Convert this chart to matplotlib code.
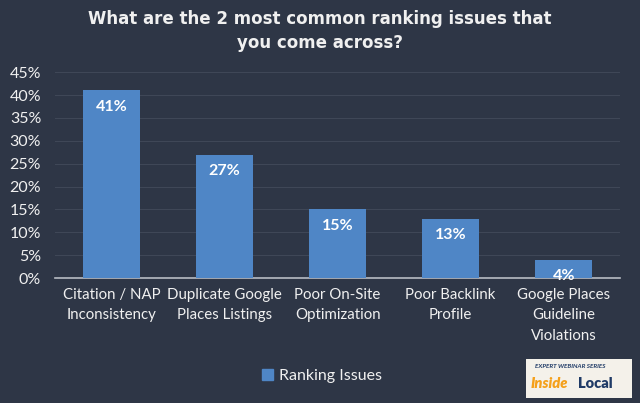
import matplotlib
matplotlib.use("Agg")
import matplotlib.pyplot as plt
from matplotlib.patches import Rectangle, Patch

categories = ["Citation / NAP\nInconsistency", "Duplicate Google\nPlaces Listings",
              "Poor On-Site\nOptimization", "Poor Backlink\nProfile",
              "Google Places\nGuideline\nViolations"]
values = [0.41, 0.27, 0.15, 0.13, 0.04]
value_labels = ["41%", "27%", "15%", "13%", "4%"]
yticks = [0, 0.05, 0.10, 0.15, 0.20, 0.25, 0.30, 0.35, 0.40, 0.45]
ytick_labels = ["0%", "5%", "10%", "15%", "20%", "25%", "30%", "35%", "40%", "45%"]
series_name = "Ranking Issues"
title = "What are the 2 most common ranking issues that\nyou come across?"

BG = "#2e3646"
BAR = "#4f86c6"
TXT = "#f0f0f0"
plt.rcParams['font.family'] = ['Lato', 'DejaVu Sans']

fig = plt.figure(figsize=(6.4, 4.03), dpi=100, facecolor=BG)
ax = fig.add_axes([0.086, 0.310, 0.883, 0.511], facecolor=BG)
x = range(len(categories))
ax.bar(x, values, width=0.5, color=BAR, zorder=3)
ax.set_xlim(-0.5, len(categories) - 0.5)
ax.set_ylim(0, 0.45)
ax.set_yticks(yticks)
ax.set_yticklabels(ytick_labels, color=TXT, fontsize=11.5)
ax.set_xticks(list(x))
ax.set_xticklabels(categories, color=TXT, fontsize=10.8, linespacing=1.6, va="top")
ax.tick_params(axis="both", length=0)
ax.tick_params(axis="x", pad=7)
ax.tick_params(axis="y", pad=10)
ax.grid(axis="y", color="#3f4757", linewidth=0.8, zorder=0)
for s in ["top", "right", "left"]:
    ax.spines[s].set_visible(False)
ax.spines["bottom"].set_color("#b8bcc4")
ax.spines["bottom"].set_linewidth(1.2)

for xi, v, lab in zip(x, values, value_labels):
    ax.text(xi, v - 0.02, lab, ha="center", va="top", color="white",
            fontsize=11.5, fontweight="bold", zorder=4)

fig.text(0.5, 0.975, title, ha="center", va="top", color=TXT,
         fontsize=12, fontweight="bold", linespacing=1.45,
         family=["DejaVu Sans"])

leg = fig.legend(handles=[Patch(color=BAR, label=series_name)], loc="center",
                 bbox_to_anchor=(0.503, 0.067), frameon=False, fontsize=11.5,
                 handlelength=0.7, handleheight=0.7, handletextpad=0.4, labelcolor=TXT)

# logo box
lax = fig.add_axes([0.822, 0.012, 0.166, 0.098])
lax.set_xlim(0, 1); lax.set_ylim(0, 1); lax.axis("off")
lax.add_patch(Rectangle((0, 0), 1, 1, color="#f4f1ea"))
lax.text(0.08, 0.80, "EXPERT WEBINAR SERIES", fontsize=4.5, fontweight="bold",
         style="italic", color="#1f3a66", va="center")
lax.text(0.04, 0.36, "Inside", fontsize=10.5, fontweight="heavy", style="italic",
         color="#f5a01a", va="center")
lax.text(0.49, 0.36, "Local", fontsize=10.5, fontweight="heavy",
         color="#1f3a66", va="center")

fig.savefig("out.png", dpi=100, facecolor=BG)
